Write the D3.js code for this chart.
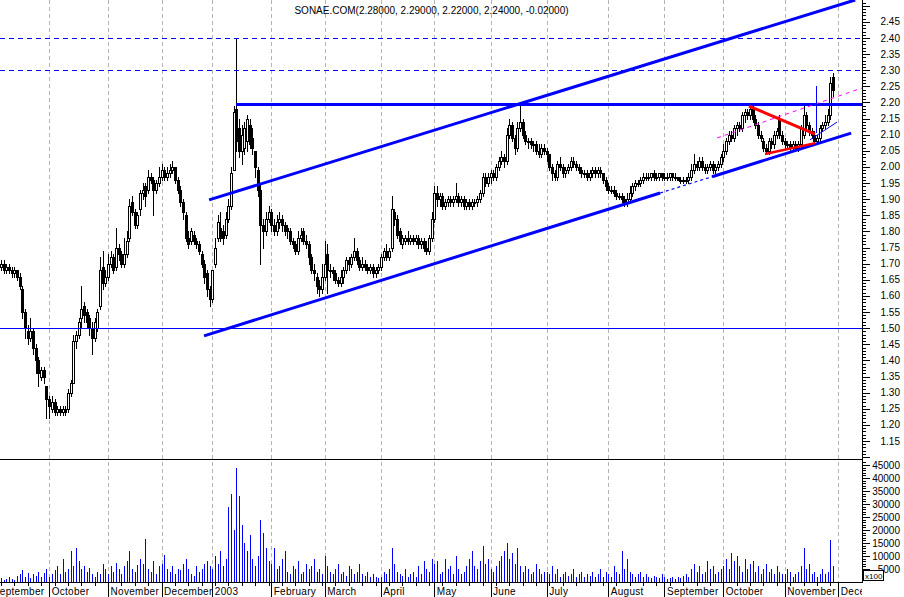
<!DOCTYPE html>
<html><head><meta charset="utf-8">
<script src="https://cdn.jsdelivr.net/npm/d3@7"></script>
<style>body{margin:0;background:#fff;} svg{display:block;font-family:"Liberation Sans",Arial,sans-serif;}</style>
</head><body><svg id="c" width="904" height="597"></svg>
<script>
const symbol = "SONAE.COM";
// daily OHLC, Sep 2002 .. Nov 2003 (one line per month)
const opens = [
1.69,1.70,1.68,1.69,1.68,1.67,1.68,1.66,1.62,1.55,1.49,1.47,1.49,1.44,1.40,1.35,1.37,1.32,
1.28,1.25,1.27,1.24,1.25,1.24,1.25,1.25,1.30,1.33,1.46,1.48,1.53,1.57,1.55,1.53,1.50,1.47,1.50,1.57,1.69,1.64,
1.66,1.70,1.72,1.69,1.75,1.73,1.70,1.73,1.78,1.89,1.86,1.82,1.87,1.92,1.94,1.93,1.97,1.96,1.93,1.95,
1.97,1.99,1.97,1.98,1.99,2.00,1.96,1.93,1.89,1.85,1.78,1.77,1.79,1.77,1.76,1.73,1.70,1.67,1.62,
1.59,1.70,1.78,1.81,1.80,1.79,1.84,1.88,1.99,2.18,2.12,2.05,2.06,2.08,2.13,2.09,2.05,1.99,1.93,1.82,1.80,1.84,
1.86,1.82,1.80,1.83,1.84,1.82,1.81,1.80,1.77,1.76,1.74,1.78,1.80,1.77,1.76,1.72,1.68,1.66,1.63,1.62,
1.66,1.73,1.68,1.68,1.67,1.65,1.64,1.66,1.68,1.71,1.70,1.72,1.74,1.71,1.69,1.70,1.69,1.68,1.69,1.67,1.68,
1.69,1.72,1.74,1.72,1.75,1.86,1.84,1.80,1.76,1.77,1.78,1.77,1.78,1.77,1.78,1.76,1.77,1.75,1.74,1.78,
1.84,1.92,1.90,1.91,1.88,1.89,1.90,1.89,1.90,1.91,1.89,1.90,1.88,1.89,1.88,1.89,1.89,1.90,1.92,1.97,1.95,
1.97,1.98,1.97,2.00,2.02,2.03,2.02,2.10,2.13,2.09,2.06,2.12,2.14,2.10,2.08,2.08,2.07,2.07,2.05,2.04,2.06,
2.05,2.04,2.00,1.98,1.97,2.01,2.00,1.98,1.99,2.00,2.02,2.01,2.00,1.99,1.98,1.98,1.97,1.98,1.99,1.98,1.99,1.98,1.96,
1.94,1.93,1.93,1.92,1.91,1.91,1.90,1.89,1.90,1.92,1.94,1.95,1.95,1.96,1.97,1.97,1.97,1.98,1.97,1.97,1.98,
1.97,1.97,1.97,1.98,1.97,1.97,1.96,1.96,1.96,1.96,1.97,1.99,2.01,2.00,2.02,2.00,1.99,2.00,2.01,1.99,2.00,2.01,
2.03,2.05,2.08,2.10,2.09,2.12,2.13,2.12,2.16,2.17,2.16,2.18,2.15,2.13,2.10,2.08,2.06,2.05,2.08,2.07,2.10,2.15,2.10,
2.08,2.07,2.07,2.06,2.07,2.06,2.07,2.10,2.16,2.13,2.11,2.10,2.08,2.09,2.12,2.13,2.14,2.16,2.28];
const highs = [
1.71,1.71,1.70,1.70,1.69,1.69,1.68,1.67,1.63,1.56,1.51,1.53,1.50,1.45,1.41,1.38,1.38,1.32,
1.29,1.29,1.28,1.26,1.26,1.26,1.26,1.31,1.34,1.48,1.49,1.53,1.63,1.58,1.56,1.54,1.52,1.53,1.56,1.72,1.74,1.68,
1.73,1.74,1.73,1.81,1.76,1.74,1.78,1.80,1.90,1.91,1.87,1.86,1.93,1.95,1.95,1.99,1.98,1.97,1.96,2.00,
2.01,2.00,2.00,2.01,2.02,2.00,1.97,1.94,1.90,1.86,1.80,1.81,1.80,1.78,1.77,1.74,1.71,1.68,1.63,
1.68,1.78,1.85,1.86,1.82,1.86,1.90,2.00,2.19,2.40,2.15,2.13,2.14,2.16,2.15,2.12,2.05,2.00,1.95,1.84,1.86,1.88,
1.87,1.84,1.85,1.86,1.85,1.83,1.82,1.81,1.78,1.77,1.80,1.81,1.81,1.79,1.77,1.73,1.70,1.67,1.65,1.70,
1.77,1.76,1.70,1.69,1.68,1.66,1.68,1.69,1.72,1.72,1.73,1.78,1.75,1.72,1.72,1.71,1.70,1.70,1.70,1.69,1.70,
1.73,1.75,1.76,1.75,1.91,1.87,1.85,1.81,1.79,1.79,1.80,1.79,1.79,1.79,1.79,1.78,1.78,1.77,1.79,1.86,
1.94,1.94,1.92,1.92,1.90,1.91,1.91,1.91,1.95,1.92,1.91,1.91,1.90,1.90,1.90,1.90,1.91,1.93,1.98,1.98,1.98,
1.99,1.99,2.01,2.03,2.05,2.04,2.12,2.15,2.14,2.10,2.14,2.20,2.15,2.11,2.09,2.09,2.08,2.08,2.07,2.07,2.07,
2.06,2.04,2.01,1.99,2.02,2.03,2.01,2.00,2.01,2.03,2.03,2.02,2.01,2.00,1.99,1.99,1.99,2.00,2.00,2.00,2.00,1.98,1.97,
1.95,1.94,1.94,1.93,1.92,1.92,1.91,1.92,1.94,1.95,1.96,1.96,1.97,1.98,1.98,1.98,1.98,1.99,1.98,1.98,1.98,
1.98,1.98,1.98,1.98,1.98,1.97,1.97,1.97,1.97,1.98,2.01,2.04,2.02,2.03,2.03,2.01,2.01,2.02,2.02,2.01,2.02,2.04,
2.07,2.09,2.11,2.11,2.13,2.14,2.14,2.17,2.18,2.18,2.19,2.19,2.16,2.14,2.11,2.09,2.07,2.09,2.09,2.11,2.12,2.16,2.11,
2.09,2.08,2.08,2.08,2.08,2.08,2.13,2.19,2.17,2.14,2.12,2.11,2.10,2.13,2.14,2.16,2.18,2.28,2.29];
const lows = [
1.68,1.67,1.67,1.67,1.66,1.66,1.65,1.62,1.53,1.47,1.45,1.46,1.42,1.36,1.32,1.34,1.33,1.22,
1.22,1.24,1.23,1.23,1.23,1.23,1.23,1.24,1.29,1.33,1.44,1.47,1.50,1.52,1.50,1.48,1.42,1.46,1.49,1.56,1.62,1.63,
1.65,1.69,1.67,1.68,1.71,1.69,1.69,1.72,1.77,1.85,1.81,1.81,1.85,1.90,1.88,1.92,1.95,1.85,1.92,1.94,
1.96,1.96,1.96,1.97,1.98,1.95,1.92,1.88,1.84,1.77,1.75,1.76,1.76,1.75,1.73,1.69,1.64,1.60,1.57,
1.58,1.69,1.77,1.77,1.76,1.78,1.83,1.87,1.99,2.05,2.03,2.01,2.04,2.05,2.06,2.04,1.97,1.91,1.70,1.75,1.79,1.83,
1.80,1.79,1.79,1.81,1.80,1.79,1.78,1.76,1.75,1.73,1.73,1.77,1.76,1.75,1.70,1.67,1.65,1.61,1.60,1.61,
1.65,1.61,1.66,1.65,1.64,1.63,1.63,1.64,1.67,1.68,1.69,1.71,1.70,1.68,1.68,1.68,1.67,1.67,1.66,1.66,1.67,
1.68,1.71,1.71,1.71,1.74,1.82,1.78,1.76,1.75,1.76,1.76,1.76,1.76,1.76,1.75,1.75,1.74,1.73,1.73,1.77,
1.83,1.88,1.88,1.87,1.87,1.88,1.88,1.88,1.89,1.88,1.88,1.87,1.87,1.87,1.87,1.88,1.88,1.89,1.91,1.94,1.94,
1.95,1.96,1.96,1.99,2.01,2.00,2.01,2.09,2.08,2.04,2.05,2.11,2.09,2.07,2.06,2.06,2.05,2.04,2.03,2.03,2.04,
2.02,1.99,1.96,1.96,1.96,1.99,1.97,1.97,1.98,1.99,2.00,1.99,1.98,1.97,1.97,1.96,1.96,1.97,1.97,1.97,1.97,1.95,1.93,
1.92,1.92,1.91,1.90,1.90,1.89,1.88,1.88,1.89,1.91,1.93,1.94,1.94,1.95,1.96,1.96,1.96,1.96,1.96,1.96,1.96,
1.96,1.96,1.96,1.96,1.96,1.96,1.95,1.95,1.95,1.95,1.96,1.98,1.99,1.99,1.99,1.98,1.98,1.99,1.98,1.98,1.99,2.00,
2.02,2.04,2.07,2.08,2.08,2.10,2.11,2.11,2.14,2.15,2.15,2.14,2.12,2.09,2.08,2.05,2.04,2.04,2.06,2.06,2.09,2.09,2.07,
2.06,2.06,2.05,2.05,2.05,2.05,2.06,2.09,2.12,2.10,2.09,2.07,2.07,2.08,2.11,2.12,2.13,2.15,2.22];
const closes = [
1.70,1.68,1.69,1.68,1.67,1.68,1.66,1.63,1.55,1.50,1.47,1.49,1.44,1.40,1.36,1.37,1.35,1.28,
1.26,1.27,1.24,1.25,1.24,1.25,1.24,1.30,1.33,1.46,1.48,1.52,1.56,1.54,1.52,1.50,1.47,1.52,1.55,1.68,1.64,1.66,
1.70,1.72,1.68,1.75,1.73,1.70,1.73,1.77,1.88,1.86,1.82,1.85,1.92,1.93,1.91,1.97,1.96,1.93,1.95,1.97,
1.99,1.97,1.98,1.99,2.00,1.96,1.93,1.89,1.86,1.78,1.76,1.80,1.77,1.76,1.74,1.70,1.66,1.62,1.59,
1.68,1.75,1.83,1.78,1.78,1.84,1.88,1.98,2.17,2.08,2.05,2.10,2.12,2.15,2.07,2.06,2.00,1.93,1.82,1.80,1.84,1.86,
1.82,1.80,1.83,1.84,1.82,1.80,1.80,1.77,1.76,1.74,1.78,1.79,1.77,1.76,1.72,1.68,1.67,1.63,1.62,1.66,
1.70,1.68,1.68,1.67,1.65,1.64,1.66,1.68,1.71,1.70,1.72,1.74,1.71,1.69,1.70,1.69,1.68,1.69,1.67,1.68,1.69,
1.72,1.74,1.72,1.74,1.87,1.84,1.79,1.77,1.78,1.78,1.77,1.78,1.77,1.78,1.76,1.77,1.75,1.74,1.78,1.84,
1.92,1.90,1.91,1.88,1.89,1.90,1.89,1.90,1.91,1.89,1.90,1.88,1.89,1.88,1.89,1.89,1.90,1.92,1.97,1.95,1.97,
1.98,1.97,2.00,2.02,2.03,2.02,2.10,2.13,2.09,2.06,2.12,2.14,2.10,2.08,2.08,2.07,2.07,2.05,2.04,2.06,2.05,
2.04,2.00,1.98,1.97,2.01,2.00,1.98,1.99,2.00,2.02,2.01,2.00,1.99,1.98,1.98,1.97,1.98,1.99,1.98,1.99,1.98,1.96,1.94,
1.93,1.93,1.92,1.91,1.91,1.90,1.89,1.90,1.92,1.94,1.95,1.95,1.96,1.97,1.97,1.97,1.98,1.97,1.97,1.98,1.97,
1.97,1.97,1.98,1.97,1.97,1.96,1.96,1.96,1.96,1.97,1.99,2.01,2.00,2.02,2.00,1.99,2.00,2.01,1.99,2.00,2.01,2.03,
2.05,2.08,2.10,2.09,2.12,2.13,2.12,2.16,2.17,2.16,2.18,2.15,2.13,2.10,2.09,2.06,2.05,2.08,2.07,2.10,2.11,2.10,2.08,
2.07,2.07,2.06,2.07,2.06,2.07,2.12,2.16,2.13,2.11,2.10,2.08,2.09,2.12,2.13,2.14,2.16,2.26,2.24];
const volumes = [
1500,800,1200,2000,1000,600,2500,3000,4500,2000,3500,1500,3000,2500,4000,2000,3500,5000,
2000,3000,4500,6000,3000,9000,4000,5000,12000,6000,13000,8000,5000,6000,4000,5500,3000,2000,4000,3000,7000,5000,
3000,6000,4000,7500,5000,3000,6000,8000,12000,5000,4000,6500,9000,7000,16500,5000,4000,8000,3000,6000,
7000,10500,5000,4000,6000,3000,5000,4500,7000,9000,5000,3000,2500,6000,4000,5000,7000,8000,6000,
5000,10000,7000,12000,6000,9000,29000,34000,20000,44000,33000,22000,15000,12000,18000,9000,6000,10000,24000,19000,13000,8000,
7000,13000,5000,6000,9000,12000,4000,3000,6000,5000,8000,3000,4000,7000,5000,6000,9000,4000,5000,3000,
10000,6000,4000,3000,5000,7000,3000,4000,2500,6000,5000,3000,4000,7000,3000,2500,4000,2000,3000,2000,1500,
2000,4000,3000,5000,13000,7000,4000,3000,2500,5000,2000,3000,4000,2000,6000,3000,8000,5000,4000,9000,
7000,8000,3000,4000,9000,5000,6000,3000,10000,5000,3000,4000,6000,9000,12000,6000,5000,8000,14000,7000,9000,
5000,4000,6000,8000,10000,12000,15000,9000,11000,7000,13000,6000,4000,6000,5000,3000,4000,7000,5000,3000,4000,
4000,3000,6000,3000,5000,2000,3000,4000,2500,3000,5000,2000,3000,4000,2000,3000,2500,4000,2000,3000,5000,2000,4000,
3000,2000,6000,4000,3000,12000,5000,9000,4000,3000,2000,3000,4000,2000,3000,2000,1500,2500,2000,1500,3000,
2000,1000,1500,2000,1000,2000,1500,2500,3000,2000,5000,7000,4000,6000,3000,4000,8000,5000,6000,3000,4000,5000,
6000,9000,5000,11000,8000,10000,6000,4000,9000,5000,7000,8000,4000,6000,3000,5000,7000,4000,5000,3000,6000,4000,3000,
3000,5000,4000,2000,3000,4000,6000,13000,5000,7000,3000,4000,2000,3000,5000,3000,4000,16000,6000];

// month starts as trading-day indices
const monthStarts = [-4,18,40,60,79,101,121,142,162,183,204,227,248,270,293,313];
const monthLabels = ["September","October","November","December","2003","February","March","April","May","June","July","August","September","October","November","December"];
const priceTicks = [1.15,1.20,1.25,1.30,1.35,1.40,1.45,1.50,1.55,1.60,1.65,1.70,1.75,1.80,1.85,1.90,1.95,2.00,2.05,2.10,2.15,2.20,2.25,2.30,2.35,2.40,2.45];
const volumeTicks = [5000,10000,15000,20000,25000,30000,35000,40000,45000];
const volumeUnit = "x100";

// drawn studies, in (day index, price)
const dashedLevels = [2.40, 2.30];
const supportLevel = 1.50;
const resistance = {from: 88, price: 2.195};
const channelUpper = [[77.8, 1.898], [319.3, 2.518]];
const channelLower = [[75.9, 1.476], [317.8, 2.105]];
const channelLowerThin = [246.4, 265.8];
const triangleTop = [[279.6, 2.189], [304.3, 2.102]];
const triangleBottom = [[285.6, 2.040], [304.3, 2.074]];
const magentaTrend = [[267.7, 2.090], [321.9, 2.245]];
const thinTrend = [[302.4, 2.084], [312.5, 2.139]];
const markerLine = {day: 304.7, from: 2.105, to: 2.25};

const svg = d3.select("#c");
const R = 862, MB = 459, AX = 582;
const x = d3.scaleLinear().domain([0, 313]).range([1, 838.3]);
const yP = d3.scaleLinear().domain([1.15, 2.40]).range([441, 38]);
const yV = d3.scaleLinear().domain([0, 45000]).range([AX, 465]);
const blue = "#0000ff";

const defs = svg.append("defs");
defs.append("clipPath").attr("id","cm").append("rect").attr("x",0).attr("y",0).attr("width",R).attr("height",MB);
defs.append("clipPath").attr("id","cv").append("rect").attr("x",0).attr("y",MB).attr("width",R).attr("height",AX-MB);
defs.append("clipPath").attr("id","cx").append("rect").attr("x",0).attr("y",AX).attr("width",R).attr("height",20);

const days = closes.map((c,i)=>({i, o:opens[i], h:highs[i], l:lows[i], c, v:volumes[i]}));
const px = i => Math.round(x(i)) + 0.5;

// gridlines
const grid = svg.append("g").attr("shape-rendering","crispEdges");
grid.selectAll("line").data(monthStarts.filter(m=>m>=0 && x(m) < R)).join("line")
  .attr("x1",d=>px(d)).attr("x2",d=>px(d)).attr("y1",0).attr("y2",AX)
  .attr("stroke","#b4b4b4").attr("stroke-dasharray","4,3");

// candles
const cg = svg.append("g").attr("clip-path","url(#cm)").attr("shape-rendering","crispEdges");
cg.selectAll("line").data(days).join("line")
  .attr("x1",d=>px(d.i)).attr("x2",d=>px(d.i))
  .attr("y1",d=>Math.round(yP(d.h))).attr("y2",d=>Math.round(yP(d.l))+1)
  .attr("stroke","#000");
cg.selectAll("rect").data(days).join("rect")
  .attr("x",d=>Math.round(x(d.i))-0.5).attr("width",2)
  .attr("y",d=>Math.round(yP(Math.max(d.o,d.c)))+0.5)
  .attr("height",d=>Math.max(1, Math.round(yP(Math.min(d.o,d.c)))-Math.round(yP(Math.max(d.o,d.c)))))
  .attr("fill",d=>d.c>=d.o?"#fff":"#000").attr("stroke","#000");

// volume
const vg = svg.append("g").attr("clip-path","url(#cv)").attr("shape-rendering","crispEdges");
vg.selectAll("line").data(days).join("line")
  .attr("x1",d=>px(d.i)).attr("x2",d=>px(d.i))
  .attr("y1",AX).attr("y2",d=>Math.round(yV(d.v)))
  .attr("stroke",blue);

// studies
const sg = svg.append("g").attr("clip-path","url(#cm)");
const seg = (pts, color, w, dash) => sg.append("line")
  .attr("x1",x(pts[0][0])).attr("y1",yP(pts[0][1])).attr("x2",x(pts[1][0])).attr("y2",yP(pts[1][1]))
  .attr("stroke",color).attr("stroke-width",w).attr("stroke-dasharray",dash||null);
dashedLevels.forEach(p => sg.append("line").attr("x1",0).attr("x2",R)
  .attr("y1",Math.round(yP(p))+0.5).attr("y2",Math.round(yP(p))+0.5)
  .attr("stroke",blue).attr("stroke-dasharray","5,4").attr("shape-rendering","crispEdges"));
sg.append("line").attr("x1",0).attr("x2",R).attr("y1",Math.round(yP(supportLevel))+0.5).attr("y2",Math.round(yP(supportLevel))+0.5)
  .attr("stroke",blue).attr("shape-rendering","crispEdges");
sg.append("line").attr("x1",x(resistance.from)).attr("x2",R).attr("y1",Math.round(yP(resistance.price))).attr("y2",Math.round(yP(resistance.price)))
  .attr("stroke",blue).attr("stroke-width",3).attr("shape-rendering","crispEdges");
seg(channelUpper, blue, 3);
const lowerAt = d => channelLower[0][1] + (d - channelLower[0][0])*(channelLower[1][1]-channelLower[0][1])/(channelLower[1][0]-channelLower[0][0]);
seg([channelLower[0], [channelLowerThin[0], lowerAt(channelLowerThin[0])]], blue, 3);
seg([[channelLowerThin[0], lowerAt(channelLowerThin[0])], [channelLowerThin[1], lowerAt(channelLowerThin[1])]], blue, 1.2, "3,3");
seg([[channelLowerThin[1], lowerAt(channelLowerThin[1])], channelLower[1]], blue, 3);
seg(magentaTrend, "#ff00ff", 1, "4,4");
seg(triangleTop, "#ff0000", 3);
seg(triangleBottom, "#ff0000", 2.5);
seg(thinTrend, blue, 1);
sg.append("line").attr("x1",px(markerLine.day)).attr("x2",px(markerLine.day))
  .attr("y1",yP(markerLine.to)).attr("y2",yP(markerLine.from)).attr("stroke",blue).attr("shape-rendering","crispEdges");

// frame
const fr = svg.append("g").attr("shape-rendering","crispEdges").attr("stroke","#000");
fr.append("line").attr("x1",0).attr("x2",R).attr("y1",MB+0.5).attr("y2",MB+0.5);
fr.append("line").attr("x1",0).attr("x2",R+1).attr("y1",AX+0.5).attr("y2",AX+0.5);
fr.append("line").attr("x1",R+0.5).attr("x2",R+0.5).attr("y1",0).attr("y2",AX+1);

// right price axis
const minorP = d3.range(110, 252).map(d=>d/100);
fr.selectAll("line.mp").data(minorP).join("line").attr("class","mp")
  .attr("x1",R).attr("x2",d=>R + (Math.round(d*100)%5===0 ? 8 : 4))
  .attr("y1",d=>Math.round(yP(d))+0.5).attr("y2",d=>Math.round(yP(d))+0.5);
const minorV = d3.range(1000, 47000, 1000);
fr.selectAll("line.mv").data(minorV).join("line").attr("class","mv")
  .attr("x1",R).attr("x2",d=>R + (d%5000===0 ? 8 : 4))
  .attr("y1",d=>Math.round(yV(d))+0.5).attr("y2",d=>Math.round(yV(d))+0.5);

const tg = svg.append("g").attr("font-size",10).attr("fill","#000");
tg.selectAll("text.p").data(priceTicks).join("text").attr("class","p")
  .attr("x",900).attr("y",d=>yP(d)).attr("dy","0.35em").attr("text-anchor","end").text(d=>d.toFixed(2));
tg.selectAll("text.v").data(volumeTicks).join("text").attr("class","v")
  .attr("x",900).attr("y",d=>yV(d)).attr("dy","0.35em").attr("text-anchor","end").text(d=>d);

// x100 box
svg.append("rect").attr("x",863.5).attr("y",570.5).attr("width",20).attr("height",10)
  .attr("fill","#fff").attr("stroke","#000").attr("shape-rendering","crispEdges");
svg.append("text").attr("x",865).attr("y",579).attr("font-size",8).text(volumeUnit);

// x axis
const xa = svg.append("g").attr("clip-path","url(#cx)");
xa.selectAll("line.mt").data(monthStarts).join("line").attr("class","mt")
  .attr("x1",d=>px(d)).attr("x2",d=>px(d)).attr("y1",AX).attr("y2",597)
  .attr("stroke","#000").attr("shape-rendering","crispEdges");
xa.selectAll("line.wt").data(d3.range(0, 313, 5)).join("line").attr("class","wt")
  .attr("x1",d=>px(d)).attr("x2",d=>px(d)).attr("y1",AX).attr("y2",AX+4)
  .attr("stroke","#000").attr("shape-rendering","crispEdges");
xa.selectAll("text").data(monthStarts).join("text")
  .attr("x",d=>x(d)+2.5).attr("y",595).attr("font-size",10).attr("letter-spacing","0.3px")
  .text((d,k)=>monthLabels[k]);

// title
const L = days.length-1, f = v => v.toFixed(5);
svg.append("text").attr("x",431.5).attr("y",14).attr("text-anchor","middle").attr("font-size",10)
  .text(`${symbol}(${f(opens[L])}, ${f(highs[L])}, ${f(lows[L])}, ${f(closes[L])}, ${f(closes[L]-closes[L-1])})`);
</script></body></html>
